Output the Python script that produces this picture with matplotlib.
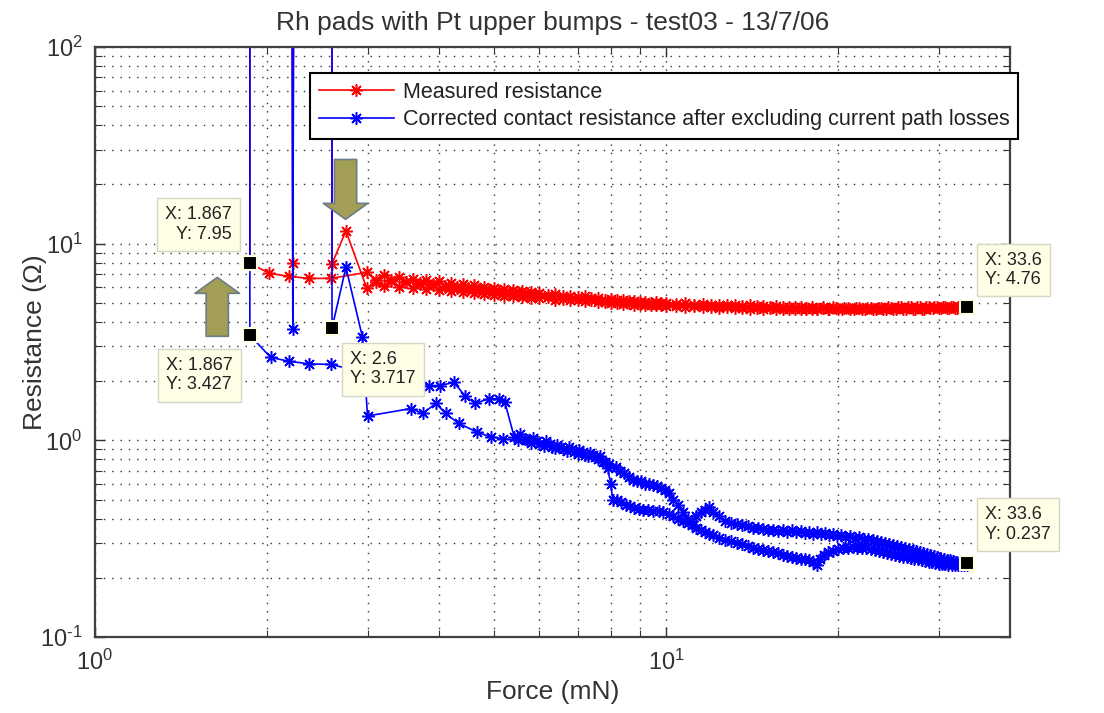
import numpy as np
import matplotlib
matplotlib.use("Agg")
import matplotlib.pyplot as plt
from matplotlib.ticker import LogLocator, NullFormatter, FuncFormatter

plt.rcParams['font.family'] = ['Liberation Sans', 'DejaVu Sans']
plt.rcParams['mathtext.fontset'] = 'custom'
plt.rcParams['mathtext.rm'] = 'Liberation Sans'
plt.rcParams['mathtext.default'] = 'regular'
plt.rcParams['axes.unicode_minus'] = False

nan = np.nan
OPEN = 1000.0  # open contact, reading goes off scale

# Measured resistance - first sweep (starts with open contact at 1.867 mN)
red_a_x = [1.867, 1.867, 2.02, 2.19, 2.37, 2.59, 2.99,
           3.1, 3.2, 3.3, 3.4, 3.5, 3.6, 3.7, 3.8, 3.9, 4.0, 4.1, 4.2, 4.3, 4.4, 4.5, 4.6,
           4.7, 4.8, 4.9, 5.0, 5.1, 5.2, 5.3, 5.4, 5.5, 5.6, 5.7, 5.8, 5.9, 6.0, 6.2, 6.4,
           6.6, 6.8, 7.0, 7.2, 7.4, 7.6, 7.8, 8.0, 8.2, 8.4, 8.6, 8.8, 9.0, 9.2, 9.4, 9.6,
           9.8, 10.0, 10.4, 10.8, 11.2, 11.6, 12.0, 12.4, 12.8, 13.2, 13.6, 14.0, 14.4, 14.8,
           15.2, 15.6, 16.0, 16.4, 16.8, 17.2, 17.6, 18.0, 18.4, 18.8, 19.2, 19.6, 20.0, 20.5,
           21.0, 21.5, 22.0, 22.5, 23.0, 23.5, 24.0, 24.5, 25.0, 25.5, 26.0, 26.5, 27.0, 27.5,
           28.0, 28.5, 29.0, 29.5, 30.0, 30.5, 31.0, 31.5, 32.0, 32.5, 33.0, 33.6]
red_a_y = [OPEN, 7.95, 7.06, 6.82, 6.66, 6.66, 7.15,
           6.55, 6.9, 6.45, 6.75, 6.35, 6.6, 6.25, 6.5, 6.15, 6.45, 6.05, 6.3, 5.95, 6.25, 5.9, 6.15,
           5.8, 6.05, 5.75, 5.95, 5.65, 5.9, 5.6, 5.8, 5.5, 5.75, 5.45, 5.7, 5.4, 5.6, 5.35, 5.55,
           5.25, 5.45, 5.2, 5.4, 5.15, 5.3, 5.05, 5.25, 5.0, 5.2, 4.97, 5.12, 4.93, 5.08, 4.9, 5.05,
           4.87, 5.0, 4.83, 4.97, 4.8, 4.93, 4.77, 4.9, 4.74, 4.87, 4.72, 4.85, 4.7, 4.82,
           4.69, 4.8, 4.67, 4.78, 4.66, 4.77, 4.66, 4.76, 4.65, 4.75, 4.65, 4.74, 4.65, 4.73,
           4.65, 4.73, 4.65, 4.73, 4.66, 4.73, 4.66, 4.74, 4.67, 4.74, 4.67, 4.75, 4.68, 4.75,
           4.68, 4.76, 4.69, 4.76, 4.7, 4.76, 4.71, 4.77, 4.72, 4.77, 4.74, 4.76]
# short open-contact glitch
red_g_x = [2.21, 2.22, 2.23]
red_g_y = [OPEN, 8.0, OPEN]
# second sweep (open contact at 2.6 mN)
red_b_x = [2.6, 2.6, 2.75, 2.99,
           3.1, 3.2, 3.3, 3.4, 3.5, 3.6, 3.7, 3.8, 3.9, 4.0, 4.1, 4.2, 4.3, 4.4, 4.5, 4.6, 4.7,
           4.8, 4.9, 5.0, 5.1, 5.2, 5.3, 5.4, 5.5, 5.6, 5.7, 5.8, 5.9, 6.0, 6.2, 6.4, 6.6, 6.8,
           7.0, 7.2, 7.4, 7.6, 7.8, 8.0, 8.2, 8.4, 8.6, 8.8, 9.0, 9.2, 9.4, 9.6, 9.8, 10.0,
           10.4, 10.8, 11.2, 11.6, 12.0, 12.4, 12.8, 13.2, 13.6, 14.0, 14.4, 14.8, 15.2, 15.6,
           16.0, 16.4, 16.8, 17.2, 17.6, 18.0, 18.4, 18.8, 19.3, 19.8, 20.3, 20.8, 21.3, 21.8,
           22.3, 22.8, 23.3, 23.8, 24.3, 24.8, 25.3, 25.8, 26.3, 26.8, 27.3, 27.8, 28.3, 28.8,
           29.3, 29.8, 30.3, 30.8, 31.3, 31.8, 32.3, 32.8, 33.3]
red_b_y = [OPEN, 7.9, 11.6, 5.95,
           6.4, 6.1, 6.5, 6.0, 6.35, 5.95, 6.3, 5.85, 6.2, 5.8, 6.1, 5.75, 6.05, 5.7, 5.95, 5.6, 5.9,
           5.55, 5.8, 5.5, 5.75, 5.45, 5.7, 5.4, 5.65, 5.35, 5.6, 5.3, 5.55, 5.3, 5.5, 5.2, 5.45, 5.15,
           5.35, 5.1, 5.3, 5.05, 5.2, 5.0, 5.15, 4.95, 5.1, 4.9, 5.05, 4.88, 5.0, 4.85, 4.97, 4.82,
           4.95, 4.78, 4.9, 4.75, 4.87, 4.72, 4.85, 4.7, 4.82, 4.68, 4.8, 4.66, 4.78, 4.65,
           4.76, 4.64, 4.75, 4.63, 4.73, 4.63, 4.66, 4.73, 4.64, 4.72, 4.64, 4.72, 4.64, 4.72,
           4.65, 4.72, 4.65, 4.73, 4.66, 4.73, 4.66, 4.74, 4.67, 4.74, 4.67, 4.75, 4.68, 4.75,
           4.69, 4.75, 4.7, 4.76, 4.71, 4.76, 4.72, 4.76, 4.74]

# Corrected contact resistance - first sweep
blue_a_x = [1.867, 1.867, 2.03, 2.19, 2.37, 2.59, 3.2, 3.84, 4.02, 4.25, 4.44, 4.63, 4.9, 5.1,
            5.22, 5.42, 5.55, 5.7, 5.85, 6.0, 6.15, 6.3, 6.45, 6.6, 6.75, 6.9, 7.05, 7.2, 7.35,
            7.5, 7.65, 7.8, 7.95, 8.16, 8.3, 8.45, 8.6, 8.74, 8.9, 9.05, 9.2, 9.35, 9.5, 9.65,
            9.8, 9.95, 10.1, 10.3, 10.5, 10.7, 10.9, 11.1, 11.3, 11.5, 11.7, 11.9, 12.1, 12.4,
            12.7, 13.0, 13.3, 13.6, 13.9, 14.2, 14.5, 14.8, 15.1, 15.4, 15.7, 16.0, 16.3, 16.6,
            16.9, 17.2, 17.5, 17.8, 18.1, 18.4, 18.7, 19.0, 19.3, 19.6, 19.9, 20.2, 20.6, 21.0,
            21.4, 21.8, 22.2, 22.6, 23.0, 23.4, 23.8, 24.2, 24.6, 25.0, 25.4, 25.8, 26.2, 26.6,
            27.0, 27.4, 27.8, 28.2, 28.6, 29.0, 29.4, 29.8, 30.2, 30.6, 31.0, 31.4, 31.8, 32.2,
            32.6, 33.0, 33.3, 33.6]
blue_a_y = [OPEN, 3.427, 2.64, 2.52, 2.45, 2.43, 2.1, 1.9, 1.9, 1.97, 1.69, 1.54, 1.63, 1.63,
            1.56, 1.04, 1.08, 1.0, 1.03, 0.96, 0.99, 0.93, 0.95, 0.9, 0.92, 0.87, 0.89, 0.84, 0.86,
            0.82, 0.83, 0.78, 0.76, 0.73, 0.7, 0.68, 0.65, 0.63, 0.62, 0.62, 0.6, 0.6, 0.59, 0.585,
            0.57, 0.56, 0.54, 0.5, 0.47, 0.43, 0.4, 0.39, 0.41, 0.43, 0.44, 0.46, 0.43, 0.41,
            0.39, 0.38, 0.375, 0.37, 0.365, 0.36, 0.36, 0.355, 0.35, 0.352, 0.345, 0.348, 0.343, 0.35,
            0.342, 0.345, 0.338, 0.343, 0.335, 0.34, 0.333, 0.338, 0.33, 0.334, 0.327, 0.331, 0.324, 0.327,
            0.32, 0.322, 0.316, 0.314, 0.31, 0.307, 0.303, 0.3, 0.297, 0.294, 0.29, 0.287, 0.284, 0.28,
            0.277, 0.274, 0.27, 0.267, 0.264, 0.261, 0.258, 0.255, 0.252, 0.25, 0.247, 0.245, 0.243, 0.241,
            0.24, 0.238, 0.238, 0.237]
blue_g_x = [2.21, 2.22, 2.23]
blue_g_y = [OPEN, 3.67, OPEN]
# second sweep
blue_b_x = [2.6, 2.6, 2.75, 2.94, 3.0, 3.57, 3.75, 3.95, 4.11, 4.33, 4.67, 4.93, 5.19, 5.5,
            5.65, 5.8, 5.95, 6.1, 6.25, 6.4, 6.55, 6.7, 6.85, 7.0, 7.15, 7.3, 7.45, 7.6, 7.75,
            7.9, 8.0, 8.06, 8.2, 8.35, 8.5, 8.65, 8.8, 8.95, 9.1, 9.3, 9.5, 9.7, 9.88, 10.1,
            10.3, 10.5, 10.7, 10.9, 11.1, 11.3, 11.5, 11.7, 11.9, 12.1, 12.4, 12.7, 13.0, 13.3,
            13.6, 13.9, 14.2, 14.5, 14.8, 15.1, 15.4, 15.7, 16.0, 16.3, 16.6, 16.9, 17.2, 17.5,
            17.8, 18.1, 18.4, 18.6, 18.9, 19.2, 19.6, 20.0, 20.4, 20.8, 21.2, 21.6, 22.0, 22.4,
            22.8, 23.2, 23.6, 24.0, 24.4, 24.8, 25.2, 25.6, 26.0, 26.4, 26.8, 27.2, 27.6, 28.0,
            28.4, 28.8, 29.2, 29.6, 30.0, 30.4, 30.8, 31.2, 31.6, 32.0, 32.4, 32.8, 33.2, 33.6]
blue_b_y = [OPEN, 3.717, 7.58, 3.34, 1.33, 1.45, 1.37, 1.54, 1.37, 1.22, 1.1, 1.04, 1.02, 1.0,
            1.02, 0.97, 0.99, 0.94, 0.96, 0.91, 0.93, 0.88, 0.9, 0.85, 0.87, 0.83, 0.84, 0.8, 0.78,
            0.72, 0.6, 0.5, 0.495, 0.485, 0.47, 0.465, 0.455, 0.45, 0.44, 0.44, 0.435, 0.435, 0.43, 0.42,
            0.41, 0.4, 0.39, 0.38, 0.37, 0.36, 0.35, 0.343, 0.335, 0.33, 0.32, 0.313, 0.307, 0.302,
            0.297, 0.29, 0.285, 0.28, 0.277, 0.273, 0.27, 0.266, 0.262, 0.259, 0.256, 0.253, 0.25, 0.248,
            0.245, 0.24, 0.232, 0.25, 0.262, 0.27, 0.275, 0.28, 0.283, 0.285, 0.287, 0.285, 0.284, 0.282,
            0.28, 0.277, 0.274, 0.271, 0.268, 0.265, 0.262, 0.259, 0.256, 0.254, 0.252, 0.25, 0.248, 0.246,
            0.244, 0.242, 0.24, 0.238, 0.236, 0.235, 0.234, 0.233, 0.232, 0.232, 0.231, 0.231, 0.232, 0.233]

red_x = red_a_x + [nan] + red_g_x + [nan] + red_b_x
red_y = red_a_y + [nan] + red_g_y + [nan] + red_b_y
blue_x = blue_a_x + [nan] + blue_g_x + [nan] + blue_b_x
blue_y = blue_a_y + [nan] + blue_g_y + [nan] + blue_b_y

# data cursors: (x, y, box offset in px, text alignment)
tips = [(1.867, 7.95, (-51, 39), 'right'),
        (1.867, 3.427, (-50, -40), 'left'),
        (2.6, 3.717, (51, -41), 'left'),
        (33.6, 4.76, (47, 37), 'left'),
        (33.6, 0.237, (51, 39), 'left')]


def decade_label(v, pos):
    e = int(round(np.log10(v)))
    exp = str(e).replace('-', '\u2010')
    return f'$10^{{{exp}}}$'


W, H = 1104, 713
fig = plt.figure(figsize=(W / 100, H / 100), dpi=100)
ax = fig.add_axes([95 / W, 1 - 637 / H, (1010 - 95) / W, (637 - 47) / H])

star = (8, 2, 0)
ax.plot(red_x, red_y, '-', marker=star, color='#FF0000', lw=1.2, ms=9, mew=1.1,
        label='Measured resistance')
ax.plot(blue_x, blue_y, '-', marker=star, color='#0000FF', lw=1.2, ms=9, mew=1.1,
        label='Corrected contact resistance after excluding current path losses')

ax.set_xscale('log')
ax.set_yscale('log')
ax.set_xlim(1, 40)
ax.set_ylim(0.1, 100)
ax.xaxis.set_major_formatter(FuncFormatter(decade_label))
ax.yaxis.set_major_formatter(FuncFormatter(decade_label))
ax.xaxis.set_minor_formatter(NullFormatter())
ax.yaxis.set_minor_formatter(NullFormatter())
ax.xaxis.set_minor_locator(LogLocator(subs=np.arange(2, 10)))
ax.yaxis.set_minor_locator(LogLocator(subs=np.arange(2, 10)))

ax.grid(True, which='both', linestyle=(0, (1, 5)), color='#333333', linewidth=1.0)
ax.tick_params(which='both', direction='in', top=True, right=True, color='#333333')
ax.tick_params(which='major', length=7, width=1.0, labelsize=17, pad=9, labelcolor='#333333')
ax.tick_params(which='minor', length=5, width=0.8)
for s in ax.spines.values():
    s.set_linewidth(1.6)
    s.set_color('#404040')

ax.set_title('Rh pads with Pt upper bumps - test03 - 13/7/06', fontsize=19, pad=12,
             color='#333333')
ax.set_xlabel('Force (mN)', fontsize=19, labelpad=4, color='#333333')
ax.set_ylabel('Resistance (\u03a9)', fontsize=19, color='#333333')
ax.yaxis.set_label_coords(-0.053, 0.5)

leg = ax.legend(loc='upper left', bbox_to_anchor=(310 / W, 1 - 73 / H),
                bbox_transform=fig.transFigure, fontsize=15.5, fancybox=False,
                edgecolor='black', framealpha=1, borderaxespad=0, handlelength=3.5,
                handletextpad=0.4, borderpad=0.4, labelspacing=0.3)
leg.get_frame().set_linewidth(1.5)
for t in leg.get_texts():
    t.set_color('#222222')

# block arrows pointing at the open-contact glitches
arrow_style = 'simple,head_length=1.15,head_width=3.2,tail_width=1.6'
ax.annotate('', xy=(2.746, 13.3), xytext=(2.746, 26.8),
            arrowprops=dict(arrowstyle=arrow_style, fc='#A39E55', ec='#6B7D86', lw=1.2,
                            shrinkA=0, shrinkB=0, mutation_scale=10),
            annotation_clip=False, zorder=4)
ax.annotate('', xy=(1.637, 6.74), xytext=(1.637, 3.38),
            arrowprops=dict(arrowstyle=arrow_style, fc='#A39E55', ec='#6B7D86', lw=1.2,
                            shrinkA=0, shrinkB=0, mutation_scale=10),
            annotation_clip=False, zorder=4)

for tx, ty, off, al in tips:
    ax.annotate(f"X: {tx:g}\nY: {ty:g}", xy=(tx, ty), xytext=off, textcoords='offset pixels',
                ha='center', va='center', multialignment=al, fontsize=13, color='#222222',
                bbox=dict(boxstyle='square,pad=0.45', fc='#FFFFE8', ec='#D6D6C2', lw=1),
                annotation_clip=False, zorder=7)
ax.plot([t[0] for t in tips], [t[1] for t in tips], 's', ms=10, mfc='black',
        mec='#FFFFE0', mew=1.5, zorder=8, clip_on=False)

fig.savefig('out.png', dpi=100)
